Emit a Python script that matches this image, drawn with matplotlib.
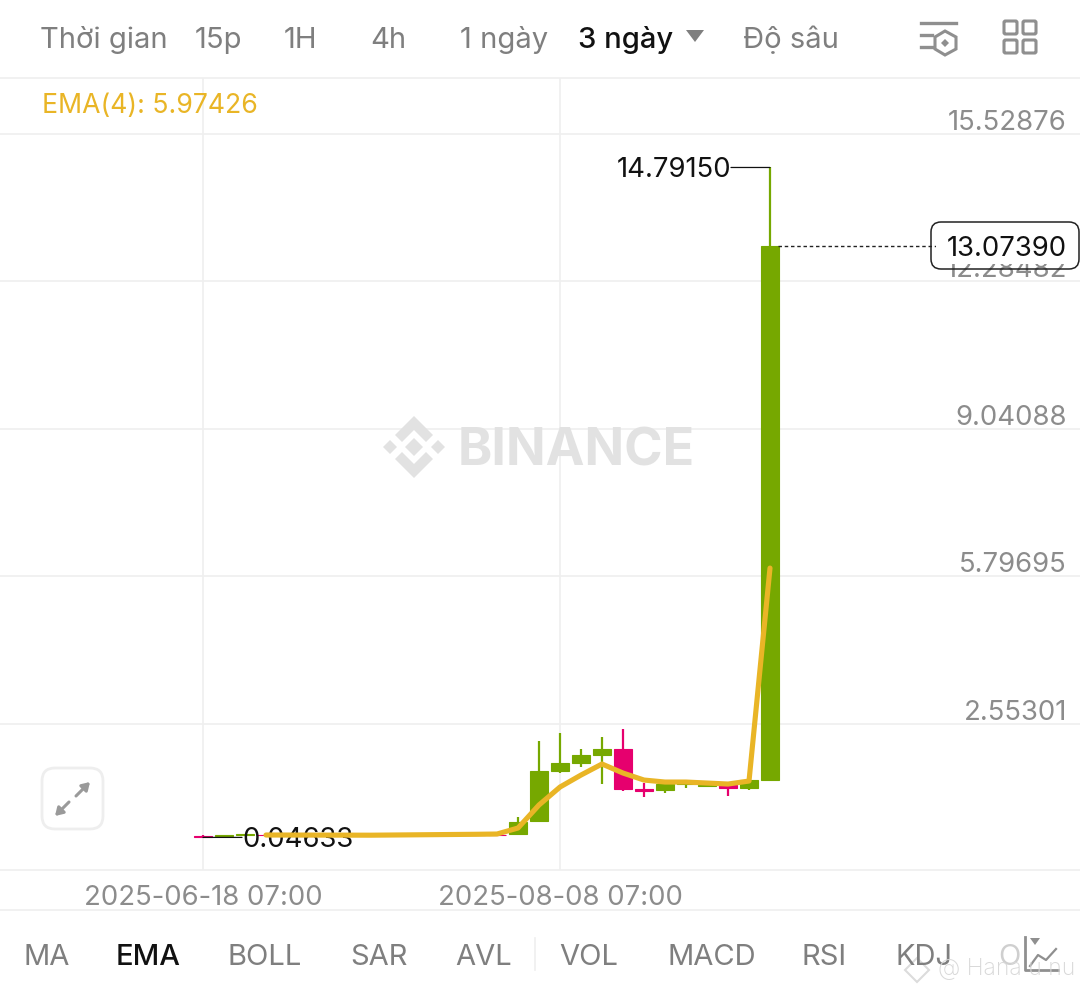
import matplotlib
matplotlib.use("Agg")
import matplotlib.pyplot as plt
from matplotlib.patches import FancyBboxPatch, Polygon, Rectangle
from matplotlib.transforms import ScaledTranslation

# ---- data -------------------------------------------------------------
opens  = [0.085,0.070,0.095,0.105,0.100,0.095,0.090,0.095,0.100,0.105,0.110,0.115,0.120,0.120,0.105,0.121,0.407,1.514,1.677,1.853,1.985,1.111,1.089,1.221,1.177,1.199,1.140,1.320]
closes = [0.050,0.100,0.125,0.100,0.095,0.090,0.095,0.100,0.105,0.110,0.115,0.120,0.125,0.105,0.090,0.392,1.514,1.677,1.853,1.985,1.111,1.067,1.221,1.254,1.210,1.140,1.309,13.0739]
highs  = [0.090,0.105,0.130,0.110,0.105,0.100,0.100,0.105,0.110,0.115,0.120,0.125,0.130,0.125,0.110,0.495,2.174,2.350,1.985,2.249,2.425,1.250,1.265,1.287,1.230,1.200,1.330,14.7915]
lows   = [0.04633,0.065,0.090,0.095,0.090,0.085,0.085,0.090,0.095,0.100,0.105,0.110,0.115,0.100,0.080,0.100,0.407,1.457,1.589,1.221,1.074,0.929,1.017,1.133,1.162,0.957,1.089,1.300]
ema_x  = [3,8,13,14,15,16,17,18,19,20,21,22,23,24,25,26,27]
ema_y  = [0.099,0.095,0.115,0.121,0.253,0.760,1.155,1.419,1.662,1.463,1.309,1.265,1.265,1.243,1.221,1.287,5.97426]
y_ticks = [2.55301,5.79695,9.04088,12.28482,15.52876]
y_labels = ["2.55301","5.79695","9.04088","12.28482","15.52876"]
x_ticks = [0,17]
x_labels = ["2025-06-18 07:00","2025-08-08 07:00"]
last_price = 13.07390
max_price = 14.79150
min_price = 0.04633
top_tabs = [("Thời gian",40),("15p",195),("1H",284),("4h",370),("1 ngày",460),("3 ngày",578),("Độ sâu",743)]
bottom_tabs = [("MA",23),("EMA",116),("BOLL",228),("SAR",350),("AVL",455),("VOL",559),("MACD",667),("RSI",802),("KDJ",895)]

GREEN, PINK, GOLD = "#76a800", "#e6006e", "#e9b526"
GRID, GREY, AXIS = "#efefef", "#7f7f7f", "#8c8c8c"
FONT = "Inter"
plt.rcParams["font.family"] = [FONT, "DejaVu Sans"]
SIZE = 19.8
TAB = 21

W, H = 1080, 994
fig = plt.figure(figsize=(W/100, H/100), dpi=100, facecolor="white")

# ---- price chart: plot area is y 78..870 px, candles 21 px apart --------
ax = fig.add_axes([0, (H-870)/H, 1, (870-78)/H])
ax.set_xlim(-203/21, (W-203)/21)
ax.set_ylim(-0.671, 16.761)
for s in ("left", "right"):
    ax.spines[s].set_visible(False)
for s in ("top", "bottom"):
    ax.spines[s].set_color(GRID)
    ax.spines[s].set_linewidth(1.2)
ax.grid(True, color=GRID, lw=1.2, zorder=0)
ax.set_axisbelow(True)
ax.yaxis.tick_right()
ax.set_yticks(y_ticks, y_labels)
ax.set_xticks(x_ticks, x_labels)
ax.tick_params(axis="both", length=0)
ax.tick_params(axis="y", pad=-9.4, labelsize=SIZE, labelcolor=AXIS)
ax.tick_params(axis="x", pad=10.5, labelsize=SIZE, labelcolor=AXIS)
up = ScaledTranslation(0, 4/100, fig.dpi_scale_trans)
for lab in ax.get_yticklabels():
    lab.set_ha("right")
    lab.set_va("baseline")
    lab.set_transform(lab.get_transform() + up)

# candles
for i, (o, c, h, l) in enumerate(zip(opens, closes, highs, lows)):
    col = GREEN if c >= o else PINK
    ax.vlines(i, l, h, color=col, lw=1.6, zorder=3)
    ax.bar(i, abs(c-o), bottom=min(o, c), width=0.86, color=col, edgecolor=col, lw=0.8, zorder=3)

# EMA
ax.plot(ema_x, ema_y, color=GOLD, lw=3.7, solid_joinstyle="round", solid_capstyle="round", zorder=6)

# high / low / last annotations: level leader lines, then the labels
leader = dict(arrowstyle="-", color="#111111", lw=0.9, shrinkA=0, shrinkB=0)
ax.annotate("", xy=(27, max_price), xytext=(-39, 0), textcoords="offset pixels", arrowprops=leader, zorder=5)
ax.annotate("", xy=(0, min_price), xytext=(39, 0), textcoords="offset pixels", arrowprops=leader, zorder=5)
ax.annotate(f"{max_price:.5f}", xy=(27, max_price), xytext=(-39, 0), textcoords="offset pixels",
            ha="right", va="center_baseline", fontsize=SIZE, color="#111111", zorder=5)
ax.annotate(f"{min_price:.5f}", xy=(0, min_price), xytext=(39, 0), textcoords="offset pixels",
            ha="left", va="center_baseline", fontsize=SIZE, color="#111111", zorder=5)
ax.plot([27.4, 36.3], [last_price, last_price], color="#222222", lw=1, ls=(0, (2.5, 2)), zorder=4)

# ---- interface chrome, in pixel coordinates -----------------------------
ui = fig.add_axes([0, 0, 1, 1], facecolor="none")
ui.set_xlim(0, W); ui.set_ylim(H, 0); ui.axis("off")

for label, x in top_tabs:
    ui.text(x, 48, label, fontsize=TAB, va="baseline", color="#111111" if label == "3 ngày" else GREY,
            fontweight="medium" if label == "3 ngày" else "normal")
ui.add_patch(Polygon([(686, 30), (704, 30), (695, 42)], closed=True, fc=GREY, ec="none"))
ui.text(42, 113, "EMA(4): 5.97426", fontsize=19.2, va="baseline", color=GOLD)

# last-price box
ui.add_patch(FancyBboxPatch((936, 227), 138, 37, boxstyle="round,pad=0,rounding_size=0", lw=0, fc="white", zorder=7))
ui.add_patch(FancyBboxPatch((931, 222), 148, 47, boxstyle="round,pad=0,rounding_size=10", lw=1.1, ec="#222222", fc="none", zorder=8))
ui.text(1067, 246, f"{last_price:.5f}", fontsize=SIZE, ha="right", va="center_baseline", color="#111111", zorder=9)

# header icons
ic = "#8f8f8f"
ui.plot([921, 956], [23, 23], color=ic, lw=2.4)
ui.plot([921, 932], [35, 35], color=ic, lw=2.4)
ui.plot([921, 932], [47, 47], color=ic, lw=2.4)
ui.add_patch(Polygon([(945, 31), (956, 37), (956, 49), (945, 55), (935, 49), (935, 37)], closed=True, fc="none", ec=ic, lw=2.2))
ui.add_patch(Polygon([(945, 39), (949, 43), (945, 47), (941, 43)], closed=True, fc=ic, ec="none"))
for x0 in (1004, 1023):
    for y0 in (21, 40):
        ui.add_patch(FancyBboxPatch((x0, y0), 13, 13, boxstyle="round,pad=0,rounding_size=1.5", fc="none", ec=ic, lw=2.2))

# divider lines
ui.plot([0, W], [910, 910], color=GRID, lw=1.2)
ui.plot([535, 535], [938, 970], color=GRID, lw=1.2)

# watermark
wm = "#e2e2e2"
cx, cy = 414, 447
ui.add_patch(Polygon([(cx, cy-9), (cx+9, cy), (cx, cy+9), (cx-9, cy)], closed=True, fc=wm, ec="none"))
for d in (-1, 1):
    ui.add_patch(Polygon([(cx+d*24, cy-7), (cx+d*31, cy), (cx+d*24, cy+7), (cx+d*17, cy)], closed=True, fc=wm, ec="none"))
    ui.add_patch(Polygon([(cx, cy+d*31), (cx+19, cy+d*12), (cx+12, cy+d*5), (cx, cy+d*17),
                          (cx-12, cy+d*5), (cx-19, cy+d*12)], closed=True, fc=wm, ec="none"))
ui.text(458, 465, "BINANCE", fontsize=37.5, fontweight="bold", va="baseline", color=wm)

# expand button
ui.add_patch(FancyBboxPatch((42, 768), 61, 61, boxstyle="round,pad=0,rounding_size=13", fc="white", ec="#eeeeee", lw=2))
arrow = dict(arrowstyle="-|>,head_length=0.45,head_width=0.28", color="#9a9a9a", lw=2.2, shrinkA=0, shrinkB=0)
ui.annotate("", xy=(90, 782), xytext=(76, 796), arrowprops=arrow)
ui.annotate("", xy=(55, 816), xytext=(69, 802), arrowprops=arrow)

# bottom tabs
for label, x in bottom_tabs:
    ui.text(x, 965, label, fontsize=TAB, va="baseline", color="#111111" if label == "EMA" else GREY,
            fontweight="medium" if label == "EMA" else "normal")
ui.text(998, 965, "O", fontsize=TAB, va="baseline", color="#cfcfcf")
ui.plot([1025, 1025, 1058], [937, 970, 970], color="#8f8f8f", lw=2)
ui.plot([1030, 1038, 1046, 1056], [966, 955, 960, 949], color="#8f8f8f", lw=1.6)
ui.add_patch(Polygon([(1030, 938), (1040, 938), (1035, 945)], closed=True, fc="#8f8f8f", ec="none"))

# repost watermark
ui.text(938, 975, "@ Hana u nu", fontsize=16.5, va="baseline", color="#d8d8d8", fontweight="light")
ui.add_patch(Polygon([(917, 958), (929, 970), (917, 982), (905, 970)], closed=True, fc="none", ec="#dcdcdc", lw=1.5))

fig.savefig("out.png", dpi=100, facecolor="white")
